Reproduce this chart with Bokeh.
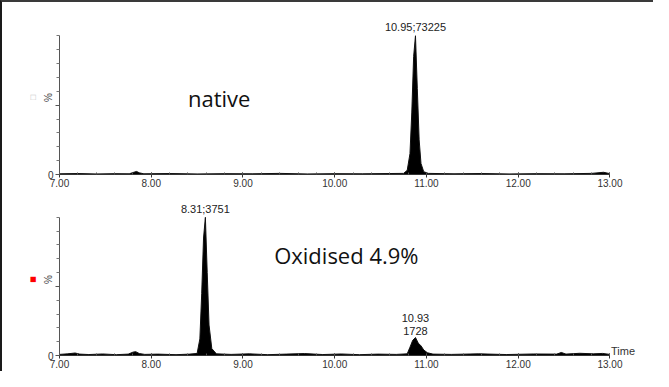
from bokeh.plotting import figure
from bokeh.models import FixedTicker, LinearAxis, ColumnDataSource
from bokeh.core.properties import value
from bokeh.layouts import column
from bokeh.embed import file_html
from bokeh.resources import INLINE

# ---- data ----
x_tick_vals = [7, 8, 9, 10, 11, 12, 13]
x_tick_labels = ["7.00", "8.00", "9.00", "10.00", "11.00", "12.00", "13.00"]

native_t = [7.0, 7.2, 7.4, 7.6, 7.76, 7.81, 7.84, 7.87, 7.92, 8.2, 8.5, 8.8, 9.1, 9.4, 9.7,
            10.0, 10.3, 10.6, 10.75, 10.79, 10.82, 10.84, 10.86, 10.88, 10.90, 10.92, 10.94,
            10.97, 11.02, 11.3, 11.6, 11.9, 12.2, 12.5, 12.8, 12.93, 13.0]
native_y = [0.5, 0.7, 0.4, 0.6, 0.5, 1.6, 2.2, 1.2, 0.5, 0.7, 0.4, 0.6, 0.5, 0.8, 0.4,
            0.6, 0.5, 0.7, 0.8, 3.0, 15.0, 45.0, 85.0, 100.0, 62.0, 25.0, 8.0,
            2.0, 0.8, 0.5, 0.7, 0.4, 0.6, 0.5, 0.8, 1.6, 0.6]

oxid_t = [7.0, 7.09, 7.17, 7.22, 7.32, 7.47, 7.62, 7.75, 7.80, 7.83, 7.87, 7.93, 8.07, 8.27, 8.42,
          8.50, 8.53, 8.55, 8.57, 8.59, 8.61, 8.63, 8.66, 8.71, 8.87, 9.07, 9.27, 9.47, 9.67,
          9.87, 10.07, 10.27, 10.47, 10.67, 10.79, 10.82, 10.85, 10.88, 10.91, 10.94, 10.97,
          11.01, 11.07, 11.27, 11.57, 11.87, 12.17, 12.42, 12.47, 12.52, 12.67, 12.82, 12.92, 13.0]
oxid_y = [0.8, 1.2, 1.8, 1.0, 0.7, 1.1, 0.6, 1.0, 2.4, 2.8, 1.4, 0.8, 1.0, 0.6, 1.0,
          1.5, 12.0, 45.0, 85.0, 100.0, 60.0, 22.0, 5.0, 1.2, 0.8, 1.2, 0.6, 1.0, 1.4,
          0.7, 1.1, 0.6, 1.0, 0.8, 1.2, 6.0, 11.0, 13.0, 9.0, 7.0, 4.0,
          2.0, 1.0, 0.8, 1.2, 0.7, 1.1, 1.0, 2.2, 1.0, 1.6, 1.2, 1.5, 0.8]

native_peak_rt = [10.88]
native_peak_h = [100.0]
native_peak_lbl = ["10.95;73225"]

oxid_peak_rt = [8.59, 10.88, 10.88]
oxid_peak_h = [100.0, 13.0, 13.0]
oxid_peak_lbl = ["8.31;3751", "1728", "10.93"]
oxid_lbl_line = [0, 0, 1]          # 0 = first line above the apex, 1 = second line

TICK_FONT = "Liberation Sans"


def make_panel(t, y, y_end, frame_h, top_border, bottom_border, title_text, title_x, title_y,
               marker_text, marker_color):
    p = figure(frame_width=578, frame_height=frame_h, x_range=(7.0, 13.3), y_range=(0, y_end),
               output_backend="svg", toolbar_location=None,
               min_border_left=57, min_border_right=16,
               min_border_top=top_border, min_border_bottom=bottom_border)
    p.outline_line_color = None
    p.grid.visible = False
    p.background_fill_color = "white"
    p.border_fill_color = "white"

    src = ColumnDataSource(dict(t=t, y=y, z=[0] * len(t)))
    p.varea(x="t", y1="z", y2="y", source=src, fill_color="black")
    p.line(x="t", y="y", source=src, line_color="#111111", line_width=1)

    xa = p.xaxis[0]
    xa.bounds = (7, 13)
    xa.ticker = FixedTicker(ticks=x_tick_vals,
                            minor_ticks=[7 + 0.2 * i for i in range(31)])
    xa.major_label_overrides = dict(zip(x_tick_vals, x_tick_labels))
    xa.axis_line_color = "#333333"
    xa.major_tick_line_color = "#333333"
    xa.minor_tick_line_color = "#555555"
    xa.major_tick_in = 2
    xa.major_tick_out = 3
    xa.minor_tick_in = 2
    xa.minor_tick_out = 0
    xa.major_label_standoff = 1
    xa.major_label_text_font = TICK_FONT
    xa.major_label_text_font_size = "10px"
    xa.major_label_text_color = "#333333"

    ya = p.yaxis[0]
    ya.bounds = (0, 100)
    ya.ticker = FixedTicker(ticks=[0, 50], minor_ticks=[10, 20, 30, 40, 60, 70, 80, 90, 100])
    ya.major_label_overrides = {0: "0", 50: ""}
    ya.axis_line_color = "#555555"
    ya.major_tick_line_color = "#555555"
    ya.minor_tick_line_color = "#777777"
    ya.major_tick_in = 0
    ya.major_tick_out = 4
    ya.minor_tick_in = 0
    ya.minor_tick_out = 3
    ya.major_label_standoff = 2
    ya.major_label_text_font = TICK_FONT
    ya.major_label_text_font_size = "10px"
    ya.major_label_text_color = "#333333"
    ya.axis_label = "%"
    ya.axis_label_standoff = -9
    ya.axis_label_text_font = TICK_FONT
    ya.axis_label_text_font_style = "normal"
    ya.axis_label_text_font_size = "10px"
    ya.axis_label_text_color = "#444444"

    extra = LinearAxis(ticker=FixedTicker(ticks=[]), axis_line_color=None,
                       major_tick_line_color=None, minor_tick_line_color=None,
                       major_label_text_font_size="0px", bounds=(0, 100),
                       axis_label=marker_text, axis_label_standoff=3,
                       axis_label_text_font="DejaVu Sans", axis_label_text_font_style="normal",
                       axis_label_text_font_size="7px", axis_label_text_color=marker_color)
    p.add_layout(extra, "left")

    p.text(x=[title_x], y=[title_y], text=[title_text], text_font=value("Open Sans"),
           text_font_size="22px", text_color="#111111",
           text_align="left", text_baseline="alphabetic")
    return p


# panel 1 : native
p1 = make_panel(native_t, native_y, 111, 154, 18, 17, "native", 8.40, 55, "□", "#c8c8c8")
p1.text(x=native_peak_rt, y=[h + 2 for h in native_peak_h], text=native_peak_lbl,
        text_align="center", text_baseline="bottom", text_font=value(TICK_FONT),
        text_font_size="11px", text_color="#222222")

# panel 2 : oxidised
p2 = make_panel(oxid_t, oxid_y, 110, 152, 12, 16, "Oxidised 4.9%", 9.34, 72.5, "■", "#ff0000")
p2.text(x=oxid_peak_rt, y=[h + 2 + 9.5 * k for h, k in zip(oxid_peak_h, oxid_lbl_line)],
        text=oxid_peak_lbl, text_align="center", text_baseline="bottom",
        text_font=value(TICK_FONT), text_font_size="11px", text_color="#222222")
p2.text(x=[x_tick_vals[-1]], y=[0], x_offset=1, y_offset=1, text=["Time"],
        text_align="left", text_baseline="bottom", text_font=value(TICK_FONT),
        text_font_size="11px", text_color="#333333")

layout = column(p1, p2, spacing=0,
                styles={"border-top": "2px solid #3a3a3a", "border-left": "2px solid #1a1a1a"})

open("out.html", "w").write(file_html(layout, INLINE))
